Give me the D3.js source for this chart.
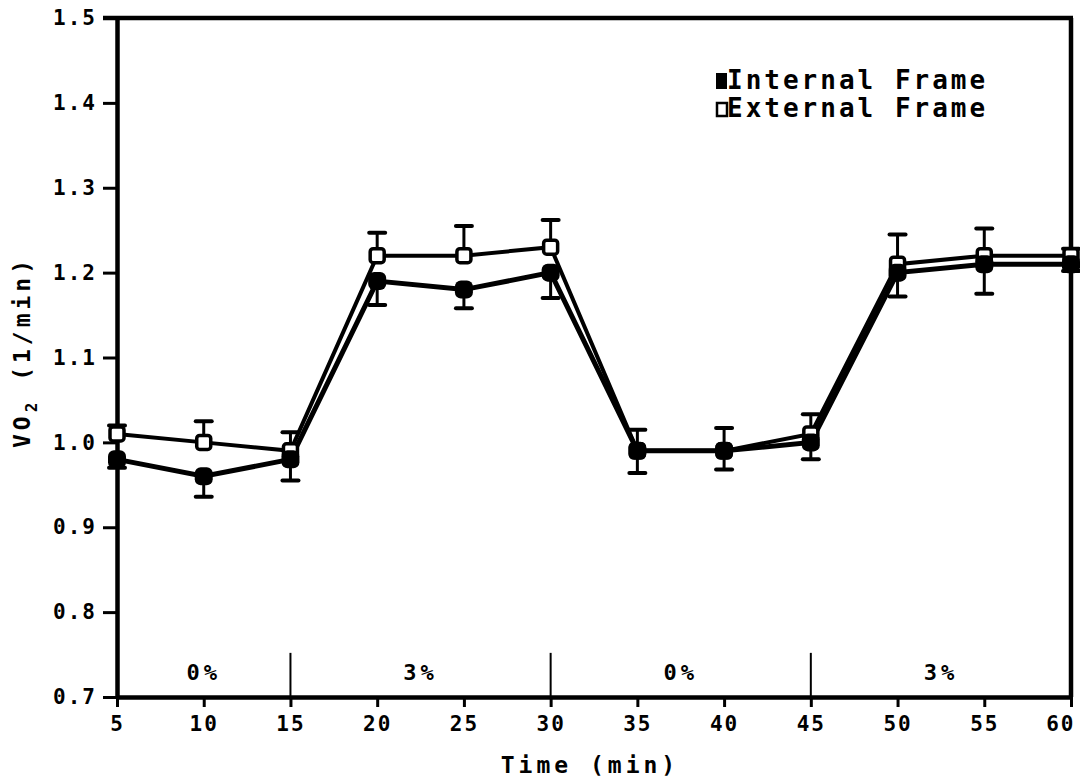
<!DOCTYPE html>
<html>
<head>
<meta charset="utf-8">
<title>VO2 chart</title>
<script src="https://cdn.jsdelivr.net/npm/d3@7"></script>
<style>
body { margin:0; background:#fff; }
text { font-family: "DejaVu Sans Mono", "Liberation Mono", monospace; font-weight: bold; fill:#000; }
</style>
</head>
<body>
<script>
// data
var times = [5, 10, 15, 20, 25, 30, 35, 40, 45, 50, 55, 60];
var internal = [0.98, 0.96, 0.98, 1.19, 1.18, 1.20, 0.99, 0.99, 1.00, 1.20, 1.21, 1.21];
var external = [1.01, 1.00, 0.99, 1.22, 1.22, 1.23, 0.99, 0.99, 1.01, 1.21, 1.22, 1.22];
var internalErr = [0.01, 0.024, 0.025, 0.028, 0.022, 0.03, 0.026, 0.022, 0.02, 0.028, 0.035, 0.008];
var externalErr = [0.01, 0.025, 0.022, 0.027, 0.035, 0.032, 0.025, 0.027, 0.023, 0.035, 0.032, 0.008];
var yTicks = [0.7, 0.8, 0.9, 1.0, 1.1, 1.2, 1.3, 1.4, 1.5];
var yTickLabels = ["0.7", "0.8", "0.9", "1.0", "1.1", "1.2", "1.3", "1.4", "1.5"];
var phases = [{from:5, to:15, label:"0%"}, {from:15, to:30, label:"3%"}, {from:30, to:45, label:"0%"}, {from:45, to:60, label:"3%"}];

var w = 1080, h = 779;
var svg = d3.select("body").append("svg").attr("width", w).attr("height", h);

var x = d3.scaleLinear().domain([5, 60]).range([117, 1071]);
var y = d3.scaleLinear().domain([0.7, 1.5]).range([697, 18]);

// frame: top and right lines
svg.append("line").attr("x1", 103).attr("x2", x(60) + 2).attr("y1", y(1.5)).attr("y2", y(1.5))
	.attr("stroke", "#000").attr("stroke-width", 4.5);
svg.append("line").attr("x1", x(60)).attr("x2", x(60)).attr("y1", y(1.5)).attr("y2", y(0.7))
	.attr("stroke", "#000").attr("stroke-width", 4.5);

// axes
var xaxis = d3.axisBottom(x).tickValues(times).tickSize(10).tickPadding(6).tickSizeOuter(0);
var gx = svg.append("g").attr("transform", "translate(0," + y(0.7) + ")").call(xaxis);
var yaxis = d3.axisLeft(y).tickValues(yTicks).tickSize(14).tickPadding(6).tickSizeOuter(0)
	.tickFormat(function(d, i){ return yTickLabels[i]; });
var gy = svg.append("g").attr("transform", "translate(" + x(5) + ",0)").call(yaxis);

[gx, gy].forEach(function(g){
	g.select(".domain").attr("stroke", "#000").attr("stroke-width", 4.5);
	g.selectAll(".tick line").attr("stroke", "#000").attr("stroke-width", 3);
	g.selectAll(".tick text").attr("font-size", 21).style("letter-spacing", "2px")
		.attr("font-family", "DejaVu Sans Mono").attr("font-weight", "bold").attr("fill", "#000");
});
gx.selectAll(".tick text").attr("dy", "0.85em");
// last label sits inside the page edge
gx.selectAll(".tick text").filter(function(d){ return d === 60; })
	.attr("text-anchor", "end").attr("x", 4);

// phase dividers and labels
phases.forEach(function(p, i){
	if (i > 0) {
		svg.append("line").attr("x1", x(p.from)).attr("x2", x(p.from))
			.attr("y1", y(0.7)).attr("y2", y(0.752))
			.attr("stroke", "#000").attr("stroke-width", 2);
	}
	svg.append("text").attr("x", x((p.from + p.to) / 2)).attr("y", y(0.72))
		.attr("text-anchor", "middle").attr("font-size", 22).style("letter-spacing", "4px")
		.text(p.label);
});

// error bars (external up, internal down)
function errBars(vals, errs, dir) {
	var g = svg.append("g");
	times.forEach(function(t, i){
		var y0 = y(vals[i]), y1 = y(vals[i] + dir * errs[i]);
		g.append("line").attr("x1", x(t)).attr("x2", x(t)).attr("y1", y0).attr("y2", y1)
			.attr("stroke", "#000").attr("stroke-width", 3);
		g.append("line").attr("x1", x(t) - 8).attr("x2", x(t) + 8).attr("y1", y1).attr("y2", y1)
			.attr("stroke", "#000").attr("stroke-width", 4).attr("stroke-linecap", "round");
	});
}
errBars(external, externalErr, 1);
errBars(internal, internalErr, -1);

// lines
var line = d3.line().x(function(d){ return x(d[0]); }).y(function(d){ return y(d[1]); });
svg.append("path").datum(times.map(function(t, i){ return [t, external[i]]; }))
	.attr("d", line).attr("fill", "none").attr("stroke", "#000").attr("stroke-width", 4);
svg.append("path").datum(times.map(function(t, i){ return [t, internal[i]]; }))
	.attr("d", line).attr("fill", "none").attr("stroke", "#000").attr("stroke-width", 5);

// markers
svg.selectAll(".ext").data(times).enter().append("rect").attr("class", "ext")
	.attr("x", function(d){ return x(d) - 7; }).attr("y", function(d, i){ return y(external[i]) - 7; })
	.attr("width", 14).attr("height", 14).attr("rx", 3)
	.attr("fill", "#fff").attr("stroke", "#000").attr("stroke-width", 3.5);
svg.selectAll(".int").data(times).enter().append("rect").attr("class", "int")
	.attr("x", function(d){ return x(d) - 9; }).attr("y", function(d, i){ return y(internal[i]) - 9; })
	.attr("width", 18).attr("height", 18).attr("rx", 6)
	.attr("fill", "#000");

// legend
var lg = svg.append("g").attr("transform", "translate(715,72)");
lg.append("rect").attr("x", 1).attr("y", 1).attr("width", 11).attr("height", 16).attr("fill", "#000");
lg.append("rect").attr("x", 2).attr("y", 31).attr("width", 10).attr("height", 13)
	.attr("fill", "#fff").attr("stroke", "#000").attr("stroke-width", 2.5);
lg.append("text").attr("x", 12).attr("y", 17).attr("font-size", 26).style("letter-spacing", "3px").text("Internal Frame");
lg.append("text").attr("x", 12).attr("y", 45).attr("font-size", 26).style("letter-spacing", "3px").text("External Frame");

// axis titles
svg.append("text").attr("x", 590).attr("y", 773).attr("text-anchor", "middle")
	.attr("font-size", 23).style("letter-spacing", "4px").text("Time (min)");
var yt = svg.append("text").attr("transform", "translate(30,352) rotate(-90)")
	.attr("text-anchor", "middle").attr("font-size", 23).style("letter-spacing", "4px");
yt.append("tspan").text("VO");
yt.append("tspan").attr("font-size", 16).attr("dy", 7).text("2");
yt.append("tspan").attr("dy", -7).text(" (1/min)");
</script>
</body>
</html>
